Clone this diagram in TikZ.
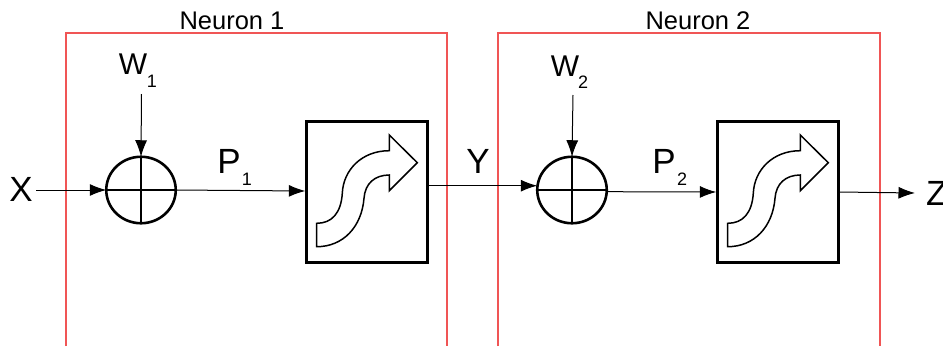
\documentclass[tikz,border=0pt]{standalone}
\usepackage{fontspec}
\setmainfont{Liberation Sans}
\usetikzlibrary{arrows.meta,shapes.geometric}
\definecolor{frame}{HTML}{F05555}
\tikzset{
  redframe/.style={draw=frame,line width=1.8pt},
  sumnode/.style={circle,draw,line width=2.6pt,minimum size=66.5pt,inner sep=0pt,outer sep=0pt,xscale=1.045},
  crossline/.style={line width=2.2pt},
  boxnode/.style={rectangle,draw,line width=3pt,minimum width=120.4pt,minimum height=141.8pt,inner sep=0pt,outer sep=1.5pt},
  curvearrow/.style={draw,line width=1.5pt,line join=miter},
  conn/.style={line width=1pt,-{Latex[length=16.5pt,width=12pt]}},
  lab/.style={anchor=base,inner sep=0pt,outer sep=0pt},
  title/.style={lab,font=\fontsize{25.5}{25.5}\selectfont},
  big/.style={lab,font=\fontsize{35}{35}\selectfont},
  wlab/.style={lab,font=\fontsize{30}{30}\selectfont},
  sublab/.style={lab,font=\fontsize{18}{18}\selectfont}
}
\newcommand{\flowshape}[1]{%
  \draw[curvearrow,shift={(#1)}] (-50.3,31.3) -- (-50.3,54.7)
    .. controls (-23.7,54.7) and (-5.3,34.7) .. (-3,6.3)
    .. controls (-2,-8.7) and (8,-17) .. (22.3,-17)
    -- (22.3,-1.3) -- (50.3,-29.3) -- (22.3,-57) -- (22.3,-41.3)
    .. controls (-5.3,-41.3) and (-23.7,-22) .. (-24.7,1.3)
    .. controls (-26,21.3) and (-35.3,31.3) .. (-50.3,31.3) -- cycle;}
\begin{document}
\begin{tikzpicture}[x=1pt,y=-1pt]
\useasboundingbox (0,0) rectangle (943,346);
% frames
\coordinate (f1a) at (66,346); \coordinate (f1b) at (66,33); \coordinate (f1c) at (447,33); \coordinate (f1d) at (447,346);
\coordinate (f2a) at (498,346); \coordinate (f2b) at (498,33); \coordinate (f2c) at (880,33); \coordinate (f2d) at (880,346);
\draw[redframe] (f1a) -- (f1b) -- (f1c) -- (f1d);
\draw[redframe] (f2a) -- (f2b) -- (f2c) -- (f2d);
% titles
\node[title] (t1) at (232,29) {Neuron 1};
\node[title] (t2) at (698,29) {Neuron 2};
% labels
\node[big] (x) at (21,201) {X};
\node[big] (p1) at (229,173) {P};
\node[sublab] (p1s) at (247,185) {1};
\node[big] (y) at (478,173) {Y};
\node[big] (p2) at (664,173) {P};
\node[sublab] (p2s) at (682,185) {2};
\node[big,anchor=base west] (z) at (926,205) {Z};
\node[wlab] (w1) at (133,74) {W};
\node[sublab] (w1s) at (152,87) {1};
\node[wlab] (w2) at (565,76) {W};
\node[sublab] (w2s) at (583,88) {2};
% summing nodes
\node[sumnode] (c1) at (141,190) {};
\node[sumnode] (c2) at (572,190) {};
\draw[crossline] (c1.north) -- (c1.south);
\draw[crossline] (c1.west) -- (c1.east);
\draw[crossline] (c2.north) -- (c2.south);
\draw[crossline] (c2.west) -- (c2.east);
% boxes
\node[boxnode] (b1) at (367,192) {};
\node[boxnode] (b2) at (778,192) {};
\flowshape{b1.center}
\flowshape{b2.center}
% free ends
\coordinate (xs) at (36,190);
\coordinate (w1e) at (141.5,94);
\coordinate (w2e) at (573,95);
\coordinate (ze) at (915,193);
% connectors
\draw[conn] (xs) -- (c1.west);
\draw[conn] (w1e) -- (c1.north);
\draw[conn] (c1.east) -- ([yshift=1pt]b1.west);
\draw[conn] ([yshift=6.3pt]b1.east) -- ([yshift=4.3pt]c2.west);
\draw[conn] (w2e) -- (c2.north);
\draw[conn] ([yshift=-1.7pt]c2.east) -- (b2.west);
\draw[conn] (b2.east) -- (ze);
\end{tikzpicture}
\end{document}
